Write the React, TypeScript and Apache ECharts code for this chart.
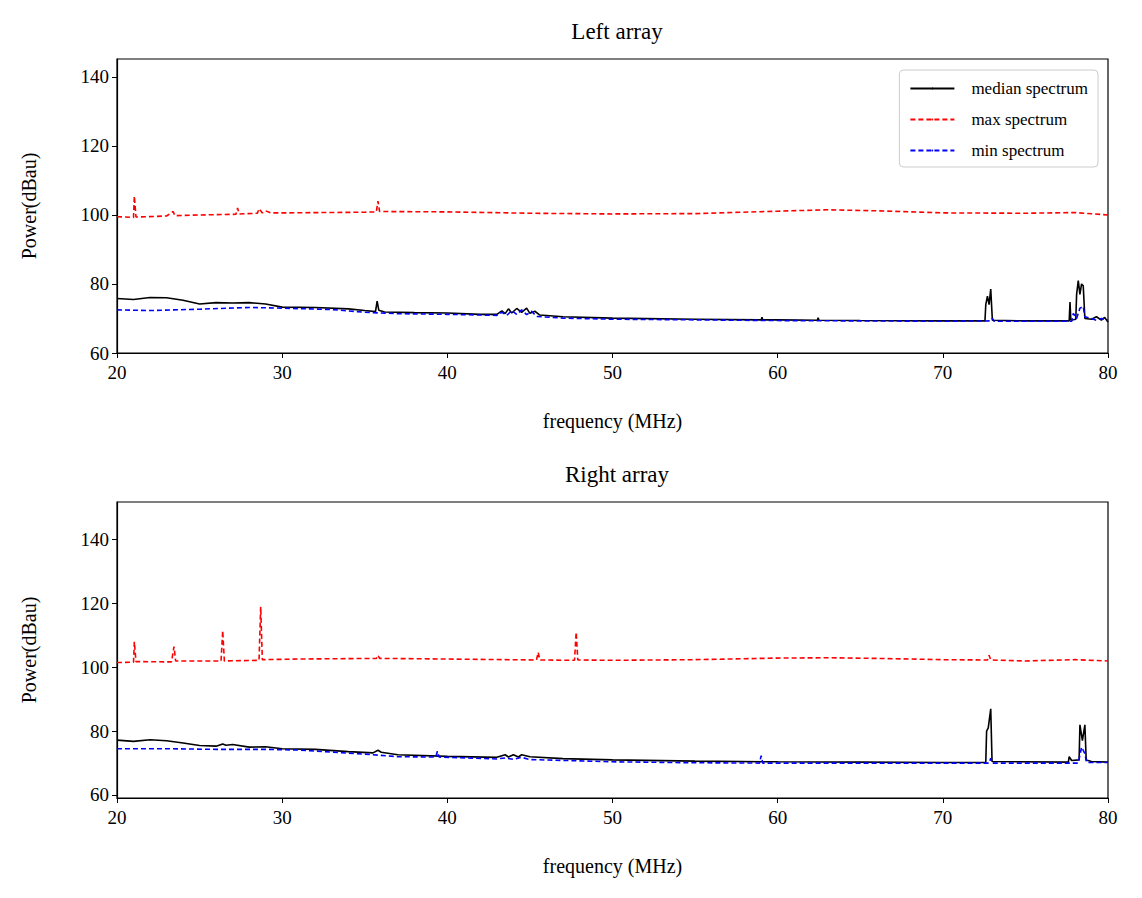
import { useEffect, useRef } from "react";
import * as echarts from "echarts";

// [frequency MHz, power dBau]
const leftMedian: number[][] = [
  [20, 75.8], [21, 75.5], [22, 76.1], [23, 76.0], [24, 75.3], [25, 74.2], [26, 74.6], [27, 74.5],
  [28, 74.6], [29, 74.2], [30, 73.3], [32, 73.2], [34, 72.8], [35, 72.3], [35.65, 72.0], [35.75, 75],
  [35.85, 72.4], [36.2, 71.9], [38, 71.7], [40, 71.6], [42, 71.2], [43, 71.2], [43.3, 72.2], [43.5, 71.4],
  [43.7, 72.8], [43.9, 71.6], [44.2, 72.9], [44.5, 71.8], [44.8, 73], [45, 71.5], [45.3, 72.1],
  [45.6, 71.0], [47, 70.5], [50, 70.1], [55, 69.8], [59, 69.6], [59.05, 70.4], [59.1, 69.6], [60, 69.6],
  [62.4, 69.5], [62.45, 70.2], [62.5, 69.5], [65, 69.4], [70, 69.3], [72.55, 69.3], [72.6, 74],
  [72.7, 76.5], [72.8, 74], [72.9, 78.5], [73.0, 69.5], [75, 69.3], [77.65, 69.3], [77.7, 74.8],
  [77.75, 69.5], [78.05, 69.8], [78.1, 77], [78.2, 81], [78.3, 77], [78.4, 80], [78.5, 79.5], [78.6, 70],
  [79, 69.8], [79.3, 70.5], [79.6, 69.5], [79.8, 70.3], [80, 69],
];
const leftMax: number[][] = [
  [20, 99.5], [21, 99.3], [21.05, 105.5], [21.15, 99.4], [23, 99.7], [23.4, 101], [23.5, 99.8], [25, 100],
  [27.2, 100.2], [27.3, 102], [27.4, 100.3], [28.5, 100.5], [28.6, 101.8], [28.8, 100.6], [29, 101.2],
  [29.3, 100.6], [30, 100.6], [35, 100.8], [35.7, 100.9], [35.8, 104], [35.9, 101], [40, 100.9],
  [45, 100.5], [50, 100.3], [55, 100.4], [60, 101.1], [63, 101.5], [66, 101.2], [70, 100.6], [75, 100.5],
  [78, 100.7], [80, 100],
];
const leftMin: number[][] = [
  [20, 72.5], [22, 72.3], [25, 72.7], [28, 73.2], [30, 73.0], [33, 72.6], [35, 71.8], [37, 71.4], [40, 71.2],
  [43, 70.9], [43.3, 71.8], [43.6, 70.9], [43.9, 72.3], [44.2, 71.2], [44.5, 72.5], [44.8, 71.1],
  [45.1, 72.1], [45.4, 70.6], [47, 70.1], [50, 69.8], [55, 69.6], [60, 69.4], [65, 69.3], [70, 69.2],
  [72.9, 69.3], [73, 70], [73.1, 69.2], [77.8, 69.2], [77.9, 71.5], [78.1, 70], [78.3, 73], [78.5, 73.5],
  [78.6, 70.5], [79, 70], [79.3, 69.5], [79.6, 70], [80, 69.5],
];

const rightMedian: number[][] = [
  [20, 77.2], [21, 76.8], [22, 77.3], [23, 77.0], [24, 76.3], [25, 75.5], [26, 75.3], [26.4, 76],
  [26.6, 75.6], [27, 75.8], [28, 75.0], [29, 75.1], [30, 74.5], [32, 74.3], [34, 73.6], [35.5, 73.2],
  [35.8, 74], [36, 73.4], [37, 72.6], [40, 72.1], [43, 71.8], [43.5, 72.6], [43.7, 71.9], [44, 72.6],
  [44.3, 71.9], [44.5, 72.6], [45, 72], [47, 71.4], [50, 71], [55, 70.6], [60, 70.4], [65, 70.3],
  [70, 70.2], [72.6, 70.2], [72.65, 80], [72.75, 81], [72.9, 87], [72.98, 70.5], [77.6, 70.3], [77.65, 72],
  [77.8, 70.8], [78.25, 71], [78.3, 82], [78.45, 77], [78.6, 82], [78.68, 71], [79, 70.5], [80, 70.3],
];
const rightMax: number[][] = [
  [20, 101.5], [21, 101.6], [21.05, 108], [21.15, 101.8], [23.3, 101.7], [23.45, 106.5], [23.55, 102],
  [26.3, 102], [26.4, 111.5], [26.5, 102], [28.6, 102.2], [28.7, 119], [28.8, 102.4], [31, 102.6],
  [35.7, 102.8], [35.8, 103.8], [35.9, 102.8], [40, 102.6], [45.4, 102.3], [45.5, 104.7], [45.6, 102.3],
  [47.7, 102.2], [47.8, 111], [47.9, 102.3], [50, 102.2], [55, 102.4], [60, 102.9], [63, 103],
  [66, 102.8], [70, 102.4], [72.7, 102.3], [72.8, 103.8], [72.9, 102.3], [75, 102], [78, 102.4], [80, 102],
];
const rightMin: number[][] = [
  [20, 74.5], [23, 74.5], [26, 74.3], [29, 74.3], [31, 74.1], [35, 72.8], [37, 72.0], [39.3, 71.9],
  [39.4, 73.7], [39.5, 71.9], [43, 71.3], [43.5, 71.6], [44, 71.2], [44.5, 71.8], [45, 71.1], [48, 70.7],
  [50, 70.4], [55, 70.1], [58.9, 70], [59, 72.3], [59.1, 70], [65, 70], [70, 70], [72.8, 70],
  [72.9, 71.5], [73, 70], [78.2, 70], [78.4, 75], [78.6, 73], [78.7, 70.2], [80, 70.2],
];

const xTicks = [20, 30, 40, 50, 60, 70, 80];
const yTicks = [60, 80, 100, 120, 140];
const titles = ["Left array", "Right array"];

const font = "'Liberation Serif', 'DejaVu Serif', serif";

export default function App() {
  const ref = useRef<HTMLDivElement | null>(null);

  useEffect(() => {
    if (!ref.current) return;
    const chart = echarts.init(ref.current, undefined, { renderer: "svg" });
    const grids = [
      { left: 117, top: 59, width: 991, height: 294 },
      { left: 117, top: 502, width: 991, height: 296 },
    ];
    const yRanges = [
      [60, 145.2],
      [59.06, 151.8],
    ];
    const lineSeries = (idx: number, name: string, data: number[][], color: string, dashed: boolean) => ({
      name,
      type: "line",
      xAxisIndex: idx,
      yAxisIndex: idx,
      data,
      showSymbol: false,
      symbol: "none",
      lineStyle: { color, width: 1.6, type: dashed ? [5, 3] : "solid" },
      itemStyle: { color },
    });
    chart.setOption({
      animation: false,
      textStyle: { fontFamily: font },
      title: titles.map((t, i) => ({
        text: t,
        left: 612,
        textAlign: "center",
        top: grids[i].top - 44,
        textStyle: { fontFamily: font, fontSize: 23, fontWeight: "normal", color: "#000" },
      })),
      legend: {
        orient: "vertical",
        right: 44,
        top: 70,
        data: ["median spectrum", "max spectrum", "min spectrum"],
        itemWidth: 44,
        itemHeight: 2,
        itemGap: 14,
        padding: [10, 10, 8, 10],
        borderColor: "#ccc",
        borderWidth: 1,
        borderRadius: 4,
        textStyle: { fontFamily: font, fontSize: 17, color: "#000", padding: [0, 0, 0, 12] },
      },
      grid: grids.map((g) => ({ ...g, show: true, borderColor: "#000", borderWidth: 1.2 })),
      xAxis: grids.map((_, i) => ({
        type: "value",
        gridIndex: i,
        min: 20,
        max: 80,
        interval: 10,
        name: "frequency (MHz)",
        nameLocation: "middle",
        nameGap: 58,
        nameTextStyle: { fontFamily: font, fontSize: 20, color: "#000" },
        splitLine: { show: false },
        axisLine: { lineStyle: { color: "#000", width: 1.2 } },
        axisTick: { customValues: xTicks, length: 5, lineStyle: { color: "#000" } },
        axisLabel: { customValues: xTicks, fontFamily: font, fontSize: 19, color: "#000", margin: 10 },
      })),
      yAxis: grids.map((_, i) => ({
        type: "value",
        gridIndex: i,
        min: yRanges[i][0],
        max: yRanges[i][1],
        name: "Power(dBau)",
        nameLocation: "middle",
        nameGap: 78,
        nameTextStyle: { fontFamily: font, fontSize: 20, color: "#000" },
        splitLine: { show: false },
        axisLine: { lineStyle: { color: "#000", width: 1.2 } },
        axisTick: { customValues: yTicks, length: 5, lineStyle: { color: "#000" } },
        axisLabel: { customValues: yTicks, fontFamily: font, fontSize: 19, color: "#000", margin: 8 },
      })),
      series: [
        lineSeries(0, "median spectrum", leftMedian, "#000", false),
        lineSeries(0, "max spectrum", leftMax, "#ff0000", true),
        lineSeries(0, "min spectrum", leftMin, "#0000ff", true),
        lineSeries(1, "median spectrum", rightMedian, "#000", false),
        lineSeries(1, "max spectrum", rightMax, "#ff0000", true),
        lineSeries(1, "min spectrum", rightMin, "#0000ff", true),
      ],
    });
    return () => chart.dispose();
  }, []);

  return (
    <div
      ref={ref}
      style={{ position: "fixed", left: 0, top: 0, width: 1142, height: 898, background: "#fff" }}
    />
  );
}
